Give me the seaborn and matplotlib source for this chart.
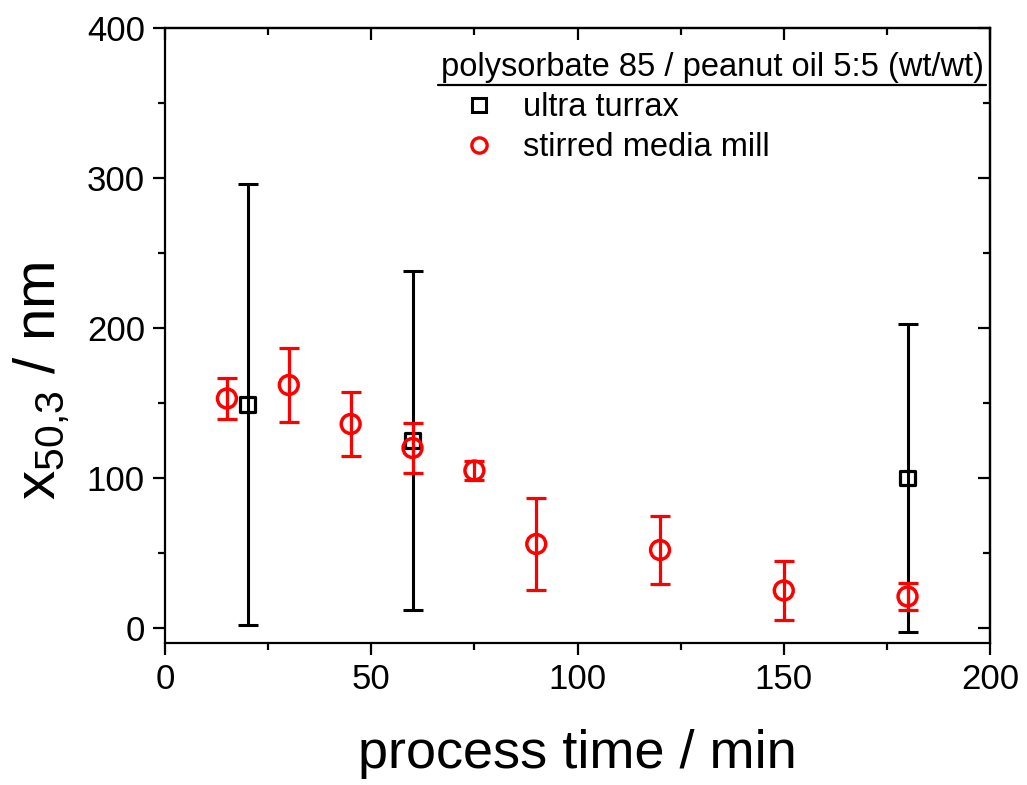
import numpy as np
import pandas as pd
import matplotlib
matplotlib.use("Agg")
import matplotlib.pyplot as plt
from matplotlib.lines import Line2D
from matplotlib.ticker import MultipleLocator
import seaborn as sns

# ---- data ----
ut_time = [20, 60, 180]
ut_x50 = [149, 125, 100]
ut_err = [147, 113, 103]

sm_time = [15, 30, 45, 60, 75, 90, 120, 150, 180]
sm_x50 = [153, 162, 136, 120, 105, 56, 52, 25, 21]
sm_err = [13.5, 24.5, 21.5, 16.5, 6.5, 31, 22.5, 19.5, 9]

legend_title = "polysorbate 85 / peanut oil 5:5 (wt/wt)"
series_labels = ["ultra turrax", "stirred media mill"]
x_ticks = [0, 50, 100, 150, 200]
y_ticks = [0, 100, 200, 300, 400]

sns.set_theme(style="ticks")
plt.rcParams["font.family"] = ["Liberation Sans", "DejaVu Sans"]
plt.rcParams["mathtext.fontset"] = "custom"
plt.rcParams["mathtext.rm"] = "Liberation Sans"
plt.rcParams["mathtext.it"] = "Liberation Sans"
plt.rcParams["text.color"] = "black"
plt.rcParams["axes.labelcolor"] = "black"
plt.rcParams["xtick.color"] = "black"
plt.rcParams["ytick.color"] = "black"

fig = plt.figure(figsize=(10.27, 7.85), dpi=100)
ax = fig.add_axes([0.1607, 0.1809, 0.8033, 0.7834])

df_ut = pd.DataFrame({"t": ut_time, "x": ut_x50, "e": ut_err})
df_sm = pd.DataFrame({"t": sm_time, "x": sm_x50, "e": sm_err})

ax.errorbar(df_ut["t"], df_ut["x"], yerr=df_ut["e"], fmt="none", ecolor="black",
            elinewidth=2.2, capsize=7.5, capthick=2.2, zorder=2)
sns.scatterplot(data=df_ut, x="t", y="x", ax=ax, marker="s", s=115,
                facecolors="none", edgecolor="black", linewidth=2.3, zorder=3)
ax.errorbar(df_sm["t"], df_sm["x"], yerr=df_sm["e"], fmt="none", ecolor="red",
            elinewidth=2.3, capsize=7.5, capthick=2.3, zorder=4)
sns.scatterplot(data=df_sm, x="t", y="x", ax=ax, marker="o", s=185,
                facecolors="none", edgecolor="red", linewidth=2.5, zorder=5)

ax.set_xlim(0, 200)
ax.set_ylim(-10, 400)
ax.set_xticks(x_ticks)
ax.set_yticks(y_ticks)
ax.xaxis.set_minor_locator(MultipleLocator(25))
ax.yaxis.set_minor_locator(MultipleLocator(50))

for sp in ax.spines.values():
    sp.set_visible(True)
    sp.set_linewidth(1.6)
    sp.set_color("black")

ax.tick_params(axis="both", which="major", direction="out", length=8.5, width=1.6,
               labelsize=25, color="black", labelcolor="black", pad=6)
ax.tick_params(axis="both", which="minor", direction="out", length=5, width=1.6, color="black")

secx = ax.secondary_xaxis("top")
secx.set_xticks(x_ticks)
secx.xaxis.set_minor_locator(MultipleLocator(25))
secx.tick_params(which="major", direction="in", length=8.5, width=1.6, labeltop=False)
secx.tick_params(which="minor", direction="in", length=5, width=1.6)
secx.spines["top"].set_linewidth(1.6)
secy = ax.secondary_yaxis("right")
secy.set_yticks(y_ticks)
secy.yaxis.set_minor_locator(MultipleLocator(50))
secy.tick_params(which="major", direction="in", length=8.5, width=1.6, labelright=False)
secy.tick_params(which="minor", direction="in", length=5, width=1.6)
secy.spines["right"].set_linewidth(1.6)

ax.set_xlabel("process time / min", fontsize=39, labelpad=24)
ax.set_ylabel(r"x$_{\mathregular{50{,}3}}$ / nm", fontsize=42)
ax.yaxis.set_label_coords(-0.114, 0.426)

handles = [
    Line2D([], [], marker="s", linestyle="none", markersize=10, markerfacecolor="none",
           markeredgecolor="black", markeredgewidth=2.2),
    Line2D([], [], marker="o", linestyle="none", markersize=11, markerfacecolor="none",
           markeredgecolor="red", markeredgewidth=2.4),
]
leg = ax.legend(handles, series_labels, title=legend_title, loc="upper right",
                bbox_to_anchor=(0.997, 0.966), frameon=False, fontsize=23.5,
                title_fontsize=23.5, alignment="left", handletextpad=0.2,
                labelspacing=0.28, borderaxespad=0.0, borderpad=0.1,
                handlelength=2.3)

fig.canvas.draw()
bb = leg.get_title().get_window_extent()
inv = fig.transFigure.inverted()
(x0, y0) = inv.transform((bb.x0 - 3, bb.y0 - 2))
(x1, _) = inv.transform((bb.x1 + 2, bb.y0 - 2))
fig.add_artist(Line2D([x0, x1], [y0, y0], color="black", linewidth=1.6,
                      transform=fig.transFigure))

fig.savefig("out.png", dpi=100)
